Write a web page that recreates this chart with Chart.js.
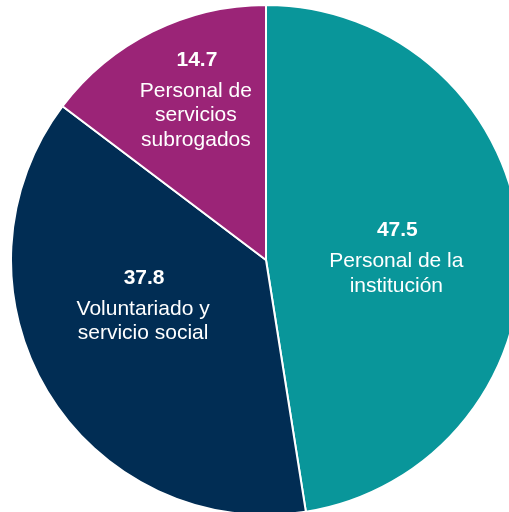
<!DOCTYPE html>
<html>
<head>
<meta charset="utf-8">
<script src="https://cdn.jsdelivr.net/npm/chart.js@4"></script>
<style>
html,body{margin:0;padding:0;background:#fff;overflow:hidden;width:509px;height:512px;}
#wrap{position:absolute;left:10px;top:4px;width:512px;height:512px;}
</style>
</head>
<body>
<div id="wrap"><canvas id="c" width="512" height="512"></canvas></div>
<script>
const categories = [
  ["Personal de la", "institución"],
  ["Voluntariado y", "servicio social"],
  ["Personal de", "servicios", "subrogados"]
];
const values = [47.5, 37.8, 14.7];
const colors = ["#09969A", "#012D54", "#9B2477"];

// label anchor offsets (dx, dy from pie centre, fraction of radius) — layout only
const labelAnchors = [[0.515, -0.094], [-0.478, 0.094], [-0.271, -0.761]];

const labelPlugin = {
  id: 'sliceLabels',
  afterDatasetsDraw(chart) {
    const ctx = chart.ctx;
    const meta = chart.getDatasetMeta(0);
    ctx.save();
    ctx.fillStyle = '#fff';
    ctx.textAlign = 'center';
    ctx.textBaseline = 'alphabetic';
    meta.data.forEach((arc, i) => {
      const r = arc.outerRadius;
      const x = arc.x + labelAnchors[i][0] * r;
      let y = arc.y + labelAnchors[i][1] * r;
      ctx.font = 'bold 21px "Liberation Sans", Arial, sans-serif';
      ctx.fillText(values[i].toFixed(1), x, y);
      ctx.font = '21px "Liberation Sans", Arial, sans-serif';
      y += 31;
      categories[i].forEach((line, k) => {
        ctx.fillText(line, x - 1, y + k * 24.5);
      });
    });
    ctx.restore();
  }
};

new Chart(document.getElementById('c'), {
  type: 'pie',
  data: {
    labels: categories.map(c => c.join(' ')),
    datasets: [{
      data: values,
      backgroundColor: colors,
      borderColor: '#ffffff',
      borderWidth: 2
    }]
  },
  options: {
    responsive: false,
    animation: false,
    layout: { padding: 0 },
    plugins: { legend: { display: false }, tooltip: { enabled: false } }
  },
  plugins: [labelPlugin]
});
</script>
</body>
</html>
